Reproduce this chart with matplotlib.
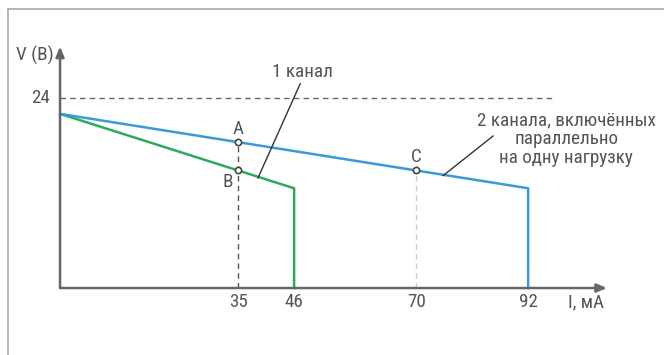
import matplotlib
matplotlib.use("Agg")
import matplotlib.pyplot as plt

# Data
i_one = [0, 46, 46]
v_one = [22.0, 12.6, 0]
i_two = [0, 92, 92]
v_two = [22.0, 12.6, 0]
v_max = 24
x_ticks = [35, 46, 70, 92]
pt_A = (35, 18.4)
pt_B = (35, 14.85)
pt_C = (70, 14.85)

plt.rcParams['font.family'] = ['Roboto Condensed', 'Liberation Sans Narrow', 'Roboto', 'DejaVu Sans']
tc = '#555555'
fs = 13.8

fig = plt.figure(figsize=(6.64, 3.55), dpi=100)
ax = fig.add_axes([0, 0, 1, 1])
ax.set_xlim(-11.8, 118.7)
ax.set_ylim(-8.46, 36.38)
ax.axis('off')

# outer frame (left and top only visible)
fig.add_artist(plt.Line2D([8/664, 8/664], [0, 1 - 9/355], color='#aaaaaa', lw=1.2))
fig.add_artist(plt.Line2D([8/664, 1], [1 - 9/355, 1 - 9/355], color='#aaaaaa', lw=1.2))

# dashed guide lines
ax.plot([0, 97.3], [v_max, v_max], ls=(0, (4, 3)), color='#666666', lw=1)
ax.plot([pt_A[0], pt_A[0]], [0, pt_A[1]], ls=(0, (4, 3)), color='#555555', lw=1)
ax.plot([pt_C[0], pt_C[0]], [0, pt_C[1]], ls=(0, (4, 3)), color='#cccccc', lw=1)

# curves
ax.plot(i_one, v_one, color='#2eaa5c', lw=1.8)
ax.plot(i_two, v_two, color='#3b9ad9', lw=1.8)

# axes with arrows
ax.annotate('', xy=(107.5, 0), xytext=(0, 0),
            arrowprops=dict(arrowstyle='-|>,head_length=0.6,head_width=0.25', color='#666666', lw=1.8, shrinkA=0, shrinkB=0))
ax.annotate('', xy=(0, 30.5), xytext=(0, 0),
            arrowprops=dict(arrowstyle='-|>,head_length=0.6,head_width=0.25', color='#666666', lw=1.8, shrinkA=0, shrinkB=0))

# points
for p in (pt_A, pt_B, pt_C):
    ax.plot(*p, 'o', ms=4.5, mfc='white', mec='#444444', mew=1.2, zorder=5)

# labels
for t in x_ticks:
    ax.text(t, -1.8, str(t), ha='center', va='center', color=tc, fontsize=fs)
ax.text(-2.0, v_max, '24', ha='right', va='center', color=tc, fontsize=fs)
ax.text(-1.3, 29.4, 'V (B)', ha='right', va='center', color=tc, fontsize=fs)
ax.text(99.8, -1.8, 'I, мА', ha='left', va='center', color=tc, fontsize=fs)
ax.text(35, 20.1, 'A', ha='center', va='center', color=tc, fontsize=fs)
ax.text(33.0, 13.4, 'B', ha='center', va='center', color=tc, fontsize=fs)
ax.text(70, 16.6, 'C', ha='center', va='center', color=tc, fontsize=fs)
ax.text(47.6, 27.3, '1 канал', ha='center', va='center', color=tc, fontsize=fs)
ax.text(99.5, 18.8, '2 канала, включённых\nпараллельно\nна одну нагрузку', ha='center', va='center',
        color=tc, fontsize=fs, linespacing=1.05)

# leader lines
ax.plot([47.2, 38.9], [25.8, 13.9], color='#333333', lw=1)
ax.plot([85.1, 75.3], [19.2, 14.2], color='#333333', lw=1)

fig.savefig('out.png', dpi=100)
